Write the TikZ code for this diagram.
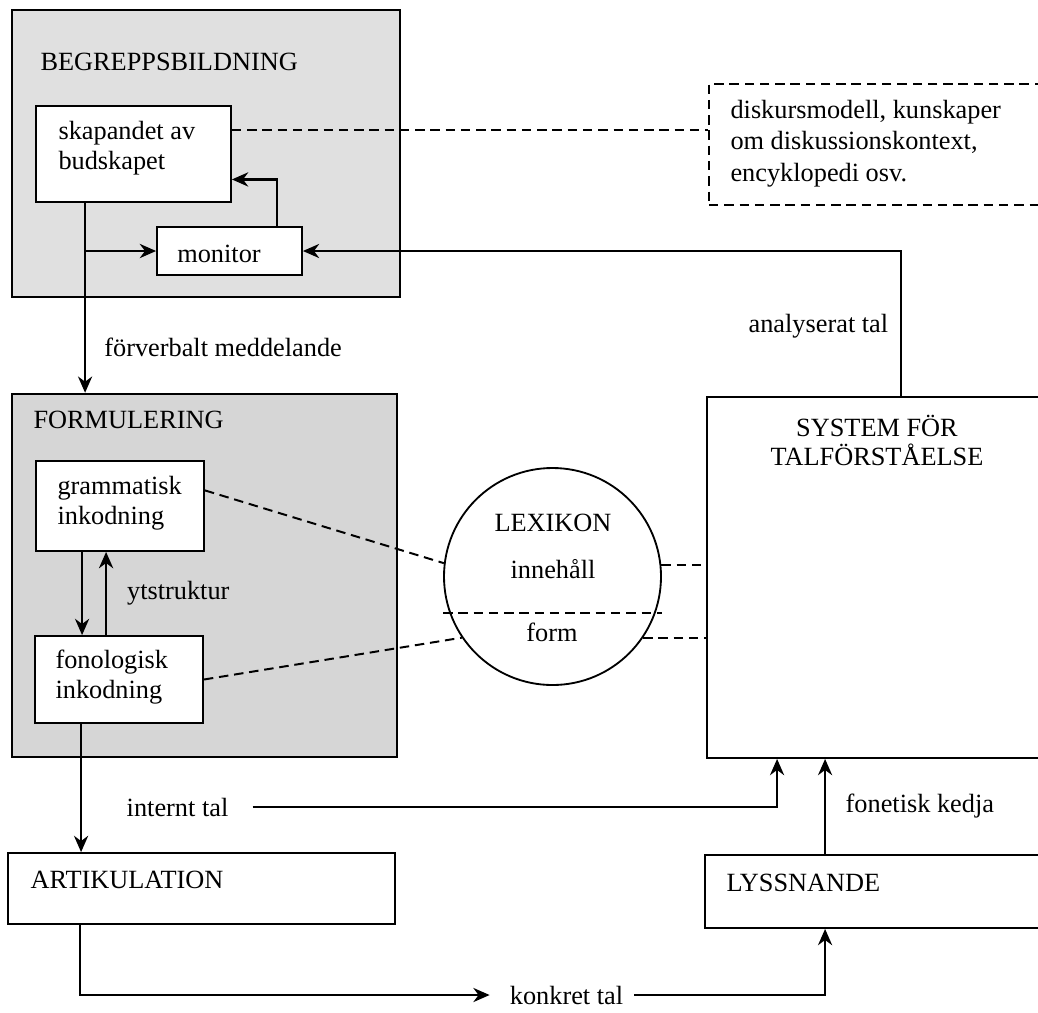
\documentclass[tikz,border=0pt]{standalone}
\usepackage{fontspec}
\setmainfont{Liberation Serif}
\usetikzlibrary{arrows.meta,calc}
\tikzset{
 >={Stealth[length=6.2pt,width=5.4pt,inset=2pt]},
 every node/.style={font=\fontsize{10}{11.5}\selectfont},
 sz/.style 2 args={minimum width=#1*0.38pt,minimum height=#2*0.38pt},
 grp/.style={draw,line width=0.95pt,inner sep=0pt},
 box/.style={draw,fill=white,line width=0.7pt,inner sep=0pt},
 lbl/.style={inner sep=0pt,align=left},
 dsh/.style={dash pattern=on 3.6pt off 2.2pt,line width=0.75pt},
 conn/.style={line width=0.65pt}
}
\begin{document}
\begin{tikzpicture}[x=0.38pt,y=-0.38pt]
\useasboundingbox (0,0) rectangle (1038,1012);
\clip (0,0) rectangle (1038,1012);

\path (206,153.5) node[name=beg,grp,fill=gray!24,sz={388}{287}] {};
\path (204.5,575.5) node[name=form,grp,fill=gray!32,sz={385}{363}] {};

\path (133.5,154) node[name=skap,box,sz={195}{96}] {};
\path (229.5,251) node[name=mon,box,sz={145}{48}] {};
\path (877,144.5) node[name=disk,draw,dsh,sz={336}{121}] {};
\path (120,506) node[name=gram,box,sz={168}{90}] {};
\path (119,679.5) node[name=fono,box,sz={168}{87}] {};
\path (552.5,576.5) node[name=lex,circle,draw,line width=0.7pt,minimum size=217*0.38pt] {};
\path (876,577.5) node[name=sys,box,sz={338}{361}] {};
\path (201.5,888.5) node[name=art,box,sz={387}{71}] {};
\path (875,891.5) node[name=lyss,box,sz={340}{73}] {};

\path (40,62) node[name=begt,lbl,anchor=west] {BEGREPPSBILDNING};
\path (58,148) node[name=skapt,lbl,anchor=west] {skapandet av\\budskapet};
\path (219,254) node[name=mont,lbl] {monitor};
\path (730,143.5) node[name=diskt,lbl,anchor=west,font=\fontsize{10}{12}\selectfont] {diskursmodell, kunskaper\\om diskussionskontext,\\encyklopedi osv.};
\path (33,420) node[name=formt,lbl,anchor=west] {FORMULERING};
\path (57,503) node[name=gramt,lbl,anchor=west] {grammatisk\\inkodning};
\path (55,677) node[name=fonot,lbl,anchor=west] {fonologisk\\inkodning};
\path (553,523) node[name=lext,lbl] {LEXIKON};
\path (553,569) node[name=inneh,lbl] {innehåll};
\path (552,632) node[name=formlex,lbl] {form};
\path (877,440) node[name=syst,lbl,align=center,font=\fontsize{10}{11}\selectfont] {SYSTEM FÖR\\TALFÖRSTÅELSE};
\path (30,880) node[name=artt,lbl,anchor=west] {ARTIKULATION};
\path (726,883) node[name=lysst,lbl,anchor=west] {LYSSNANDE};
\path (177.5,807) node[name=intt,lbl] {internt tal};
\path (566.5,995) node[name=konk,lbl] {konkret tal};

\coordinate (s1) at ($(skap.south west)+(50,0)$);
\coordinate (s2) at ($(skap.north east)!0.76!(skap.south east)$);
\coordinate (s3) at ($(skap.north east)!0.25!(skap.south east)$);
\coordinate (m1) at ($(mon.north west)+(121,0)$);
\coordinate (y1) at ($(sys.north west)+(195,0)$);
\coordinate (g1) at ($(gram.north east)!0.33!(gram.south east)$);
\coordinate (g2) at ($(gram.south west)+(47,0)$);
\coordinate (g3) at ($(gram.south west)+(71,0)$);
\coordinate (f1) at ($(fono.south west)+(47,0)$);
\coordinate (a1) at ($(art.south west)+(73,0)$);
\coordinate (y2) at ($(sys.south west)+(71,0)$);
\coordinate (l1) at ($(lyss.north west)+(121,0)$);

\draw[->,conn] (s1) -- node[lbl,right=7pt,pos=.76] (forv) {förverbalt meddelande} (s1 |- form.north);
\draw[->,line width=0.95pt] (s1 |- mon.west) -- (mon.west);
\draw[->,line width=0.95pt] (m1) |- (s2);
\draw[->,line width=0.8pt] (y1) |- node[lbl,left=4.5pt,pos=.24] (anal) {analyserat tal} (mon.east);

\draw[dsh] (s3) -- (s3 -| disk.west);
\draw[dsh] (g1) -- (lex.173);
\draw[dsh] (fono.east) -- (lex.214);
\draw[dsh] ($(lex.west)+(0,36.5)$) -- ($(lex.east)+(0,36.5)$);
\draw[dsh] (lex.6) -- (lex.6 -| sys.west);
\draw[dsh] (lex.326) -- (lex.326 -| sys.west);

\draw[->,conn] (g2) -- (g2 |- fono.north);
\draw[->,line width=1pt] (g3 |- fono.north) -- node[lbl,right=7.5pt] (ytst) {ytstruktur} (g3);
\draw[->,conn] (f1) -- (f1 |- art.north);

\draw[->,conn,shorten <=9pt] (intt.east) -| (y2);
\draw[->,conn] (l1) -- node[lbl,right=7.5pt] (fonk) {fonetisk kedja} (l1 |- sys.south);
\draw[->,conn,shorten >=7.5pt] (a1) |- (konk.west);
\draw[->,conn,shorten <=4pt] (konk.east) -| (l1 |- lyss.south);

\end{tikzpicture}
\end{document}
